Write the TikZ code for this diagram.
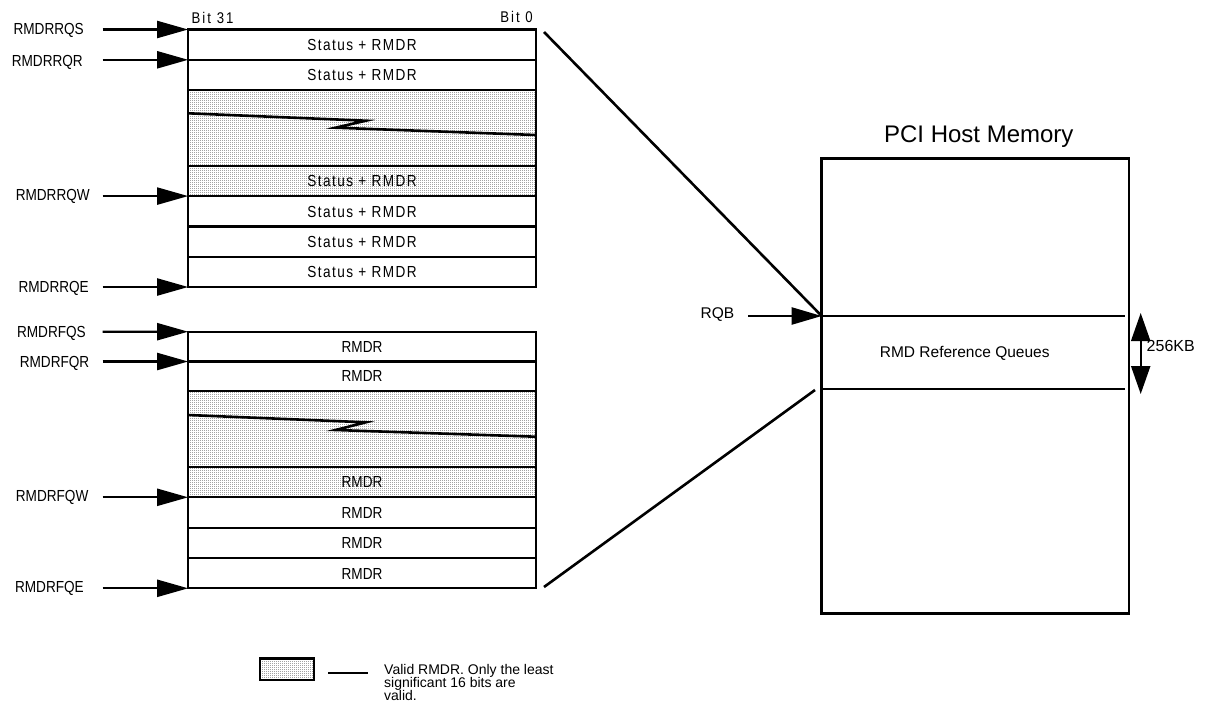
\documentclass[tikz,border=0pt]{standalone}
\usepackage{fontspec}
\setmainfont{Liberation Sans}
\newfontfamily\narrowfont[FakeStretch=0.85]{Liberation Sans}
\newfontfamily\narrowspaced[FakeStretch=0.85,LetterSpace=9]{Liberation Sans}
\newfontfamily\narrowwide[FakeStretch=0.85,LetterSpace=13]{Liberation Sans}
\usetikzlibrary{arrows.meta,patterns}

% fine dot screen used for the valid-entry regions
\pgfdeclarepatternformonly{finedots}{\pgfpointorigin}{\pgfqpoint{2pt}{2pt}}{\pgfqpoint{2pt}{2pt}}%
  {\pgfpathrectangle{\pgfpointorigin}{\pgfqpoint{1pt}{1pt}}\pgfusepath{fill}}

% tight line spacing for the key text
\newcommand\keyfont{\fontsize{14}{13.2}\selectfont\lineskiplimit=-20pt\relax\lineskip=0pt\relax}

\tikzset{
  rowbox/.style={draw, line width=2.3pt, minimum width=347.7pt, inner sep=0pt, outer sep=0pt,
    text height=11.5pt, text depth=0pt},
  stattext/.style={font=\narrowspaced\fontsize{16}{18}\selectfont},
  rmdrtext/.style={font=\narrowfont\fontsize{16}{18}\selectfont},
  shadefill/.style={pattern=finedots, pattern color=black!85},
  ptrlabel/.style={anchor=base east, inner sep=0pt, font=\narrowfont\fontsize{16}{18}\selectfont},
  ptr/.style={line width=2.2pt, -{Triangle[length=31pt,width=17pt]}},
  conn/.style={line width=2.6pt},
  zigline/.style={line width=2.6pt, line join=miter},
  plain/.style={inner sep=0pt, font=\fontsize{15.5}{18}\selectfont},
}

\begin{document}
\begin{tikzpicture}[x=1pt,y=-1pt]
\useasboundingbox (0,0) rectangle (1206,709);

% ---------- status queue ----------
\node[anchor=base west, inner sep=0pt, font=\narrowwide\fontsize{15.5}{18}\selectfont] (bit31) at (191.5,24) {Bit 31};
\node[anchor=base east, inner sep=0pt, font=\narrowwide\fontsize{15.5}{18}\selectfont] (bit0) at (533,22.5) {Bit 0};

\node[rowbox, stattext, minimum height=30.3pt] (r1) at (362,44.65) {Status + RMDR};
\node[rowbox, stattext, minimum height=30.3pt] (r2) at (362,74.95) {Status + RMDR};
\node[rowbox, shadefill, minimum height=75.7pt] (rgap) at (362,127.95) {};
\node[rowbox, stattext, shadefill, minimum height=30.3pt] (r3) at (362,180.95) {Status + RMDR};
\node[rowbox, stattext, minimum height=30.3pt] (r4) at (362,211.25) {Status + RMDR};
\node[rowbox, stattext, minimum height=30.3pt] (r5) at (362,241.55) {Status + RMDR};
\node[rowbox, stattext, minimum height=30.3pt] (r6) at (362,271.85) {Status + RMDR};
\draw[zigline] (188,113.3) -- (365.9,120.7) -- (335.5,127.7) -- (535.7,135);

% ---------- free queue ----------
\node[rowbox, rmdrtext, minimum height=29.8pt] (b1) at (362,346.6) {RMDR};
\node[rowbox, rmdrtext, minimum height=29.3pt] (b2) at (362,376.15) {RMDR};
\node[rowbox, shadefill, minimum height=75.9pt] (bgap) at (362,428.75) {};
\node[rowbox, rmdrtext, shadefill, minimum height=30.6pt] (b3) at (362,482) {RMDR};
\node[rowbox, rmdrtext, minimum height=30.4pt] (b4) at (362,512.5) {RMDR};
\node[rowbox, rmdrtext, minimum height=30.6pt] (b5) at (362,543) {RMDR};
\node[rowbox, rmdrtext, minimum height=30pt] (b6) at (362,573.3) {RMDR};
\draw[zigline] (188,415) -- (365.9,422.3) -- (335.5,430) -- (535.7,436.7);

% ---------- queue pointers ----------
\node[ptrlabel] (lRQS) at (84,35) {RMDRRQS};
\node[ptrlabel] (lRQR) at (83,66.2) {RMDRRQR};
\node[ptrlabel] (lRQW) at (90,200.7) {RMDRRQW};
\node[ptrlabel] (lRQE) at (89,292) {RMDRRQE};
\node[ptrlabel] (lFQS) at (86,337.7) {RMDRFQS};
\node[ptrlabel] (lFQR) at (89.5,367.5) {RMDRFQR};
\node[ptrlabel] (lFQW) at (88.6,501.5) {RMDRFQW};
\node[ptrlabel] (lFQE) at (84,592.3) {RMDRFQE};

\coordinate (sRQS) at (102.5,29.5);
\coordinate (sRQR) at (102.5,59.8);
\coordinate (sRQW) at (102.5,196.1);
\coordinate (sRQE) at (102.5,287);
\coordinate (sFQS) at (102.5,331.7);
\coordinate (sFQR) at (102.5,361.5);
\coordinate (sFQW) at (102.5,497.3);
\coordinate (sFQE) at (102.5,588.3);

\draw[ptr] (sRQS) -- (r1.north west);
\draw[ptr] (sRQR) -- (r2.north west);
\draw[ptr] (sRQW) -- (r4.north west);
\draw[ptr] (sRQE) -- (r6.south west);
\draw[ptr] (sFQS) -- (b1.north west);
\draw[ptr] (sFQR) -- (b2.north west);
\draw[ptr] (sFQW) -- (b4.north west);
\draw[ptr] (sFQE) -- (b6.south west);

% ---------- host memory ----------
\node[anchor=base, inner sep=0pt, font=\fontsize{24}{28}\selectfont] (title) at (978.8,142.7) {PCI Host Memory};
\node[draw, line width=2.5pt, minimum width=307.3pt, minimum height=454.6pt, inner sep=0pt, outer sep=0pt,
      anchor=north west] (host) at (821.7,158.7) {};
\coordinate (qtop) at (821.7,316);
\coordinate (qbot) at (821.7,389.3);
\draw[line width=2.2pt] (qtop) -- ([xshift=-4pt]qtop -| host.east);
\draw[line width=2.2pt] (qbot) -- ([xshift=-4pt]qbot -| host.east);
\node[plain, anchor=base] (rmdq) at (964.7,357.3) {RMD Reference Queues};

\node[plain, anchor=base west] (rqb) at (700.5,318.3) {RQB};
\coordinate (rqbstart) at (748,316);
\draw[line width=2.2pt, -{Triangle[length=30pt,width=17pt]}] (rqbstart) -- (qtop);

\coordinate (sztop) at (1140.7,313);
\coordinate (szbot) at (1140.7,394);
\draw[line width=2.2pt, {Triangle[length=28pt,width=19pt]}-{Triangle[length=28pt,width=19pt]}] (sztop) -- (szbot);
\node[anchor=base west, inner sep=0pt, font=\fontsize{16}{18}\selectfont] (sz) at (1146.5,351.7) {256KB};

% ---------- mapping lines ----------
\coordinate (mapA) at (544,32);
\coordinate (mapB) at (544,587);
\coordinate (mapBend) at (815,390);
\draw[conn] (mapA) -- (qtop);
\draw[conn] (mapB) -- (mapBend);

% ---------- legend ----------
\node[draw, shadefill, line width=2.5pt, minimum width=54pt, minimum height=21.7pt, inner sep=0pt, outer sep=0pt] (key) at (287,669.2) {};
\coordinate (keyA) at (328.3,672.7);
\coordinate (keyB) at (368.3,672.7);
\draw[line width=2.2pt] (keyA) -- (keyB);
\node[anchor=north west, inner sep=0pt, align=left, font=\keyfont] (keytext) at (384,664)
  {Valid RMDR. Only the least\\significant 16 bits are\\valid.};
\end{tikzpicture}
\end{document}
